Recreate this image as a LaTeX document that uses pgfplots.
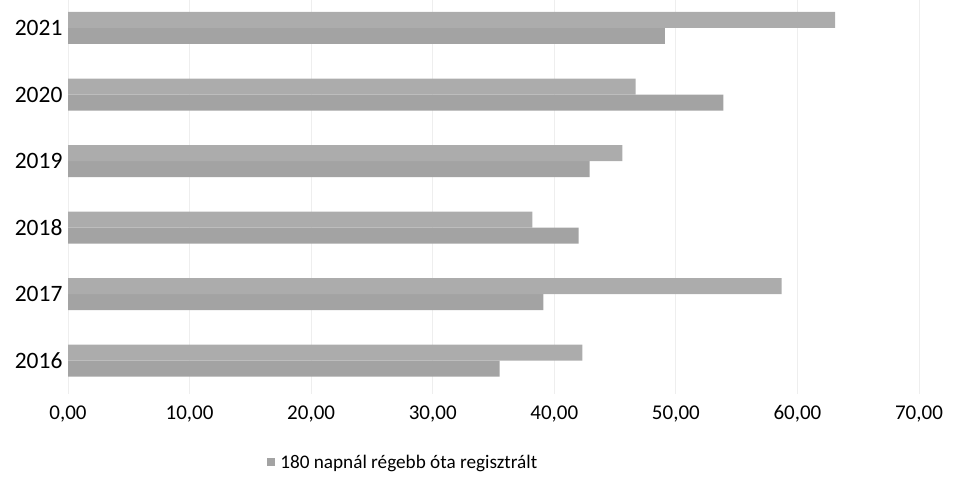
\documentclass[border=0pt]{standalone}
\usepackage{pgfplots}
\pgfplotsset{compat=1.18}
\usepackage{fontspec}
\setmainfont{Carlito}
\definecolor{barA}{HTML}{A3A3A3}
\definecolor{barB}{HTML}{ACACAC}
\definecolor{gridc}{HTML}{EEEEEE}
\begin{document}
\begin{tikzpicture}[x=1pt,y=1pt]
\begin{axis}[
  at={(68pt,89pt)}, anchor=south west,
  scale only axis, width=851pt, height=394pt,
  xmin=0, xmax=70, ymin=-0.5, ymax=5.42,
  xbar, bar width=16pt,
  xtick={0,10,...,70},
  ytick={0,1,2,3,4,5},
  yticklabels={2016,2017,2018,2019,2020,2021},
  xmajorgrids, grid style={gridc, line width=1pt},
  axis line style={draw=none},
  major tick length=0pt,
  tick label style={text=black},
  xticklabel style={font=\fontsize{21}{24}\selectfont, yshift=-8pt},
  yticklabel style={font=\fontsize{23.5}{26}\selectfont, xshift=-2pt},
  /pgf/number format/.cd, fixed, fixed zerofill, precision=2, use comma, assume math mode=true,
  /pgfplots/.cd,
  legend style={at={(0.234,-0.173)}, anchor=west, draw=none, fill=none,
    font=\fontsize{19.2}{22}\selectfont, inner sep=0pt},
  legend image code/.code={\fill[#1, draw=none] (0pt,-4pt) rectangle (8pt,4pt);},
  legend cell align=left,
  legend style={/tikz/every even column/.append style={column sep=0pt}},
]
\addplot[fill=barA, draw=none, bar shift=-8pt] coordinates {
  (35.5,0) (39.1,1) (42.0,2) (42.9,3) (53.9,4) (49.1,5)};
\addlegendentry{\hspace{3pt}180 napnál régebb óta regisztrált}
\addplot[fill=barB, draw=none, bar shift=8pt, forget plot] coordinates {
  (42.3,0) (58.7,1) (38.2,2) (45.6,3) (46.7,4) (63.1,5)};
\end{axis}
\pgfresetboundingbox
\useasboundingbox (0pt,0pt) rectangle (953pt,483pt);
\end{tikzpicture}
\end{document}
